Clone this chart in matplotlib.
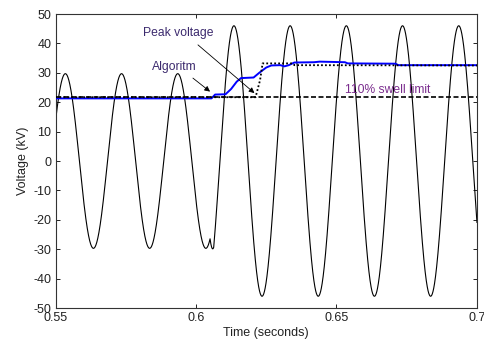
import numpy as np
import matplotlib
matplotlib.use("Agg")
from matplotlib import pyplot as plt

# Waveform: 50 Hz, rising zero crossing at 0.5485 s, envelope read from peaks
freq_hz = 50.0
phase_t0 = 0.5485
env_t = [0.55, 0.6050, 0.6063, 0.70]
env_kv = [29.7, 29.7, 46.0, 46.0]

# Detection algorithm output (blue)
algo_t = [0.55, 0.6055, 0.6068, 0.6105, 0.6125, 0.6145, 0.6160, 0.6205,
          0.6225, 0.6250, 0.6268, 0.6300, 0.6315, 0.6330, 0.6350, 0.6420,
          0.6440, 0.6530, 0.6540, 0.6710, 0.6720, 0.70]
algo_kv = [21.3, 21.3, 22.6, 22.7, 24.5, 27.0, 28.2, 28.4,
           30.0, 31.8, 32.5, 32.6, 32.2, 32.6, 33.5, 33.6,
           33.8, 33.6, 33.2, 33.1, 32.6, 32.6]

# Peak voltage (dotted)
peak_t = [0.55, 0.6212, 0.6228, 0.6237, 0.6345, 0.6350, 0.70]
peak_kv = [21.7, 21.7, 27.5, 33.2, 33.2, 32.6, 32.5]

# 110 % swell limit
limit_kv = 21.7

plt.rcParams['font.family'] = ['Liberation Sans', 'DejaVu Sans']
plt.rcParams['axes.unicode_minus'] = False

fig = plt.figure(figsize=(4.84, 3.4), dpi=100)
ax = fig.add_axes([0.1147, 0.0941, 0.8708, 0.8647])

# sampled waveform
t = np.linspace(0.55, 0.70, 3001)
amp = np.interp(t, env_t, env_kv)
v = amp * np.sin(2 * np.pi * freq_hz * (t - phase_t0))
ax.plot(t, v, color='black', lw=0.8, zorder=2)

ax.plot(algo_t, algo_kv, color='#0000ff', lw=1.4, zorder=3)
ax.axhline(limit_kv, color='black', lw=1.2, linestyle=(0, (3, 1.5)), zorder=4)
ax.plot(peak_t, peak_kv, color='black', lw=1.3, linestyle=(0, (1, 1.2)), zorder=5)

# annotations
arrow = dict(arrowstyle='-|>', color='black', lw=0.6, mutation_scale=8,
             shrinkA=0, shrinkB=0)
ax.annotate('', xy=(0.6208, 23.1), xytext=(0.6007, 39.5), arrowprops=arrow, zorder=6)
ax.annotate('', xy=(0.6050, 23.6), xytext=(0.5989, 28.2), arrowprops=arrow, zorder=6)
ax.text(0.5936, 43.5, 'Peak voltage', fontsize=8.7, color='#3c2a6e',
        ha='center', va='center')
ax.text(0.5922, 32.0, 'Algoritm', fontsize=8.7, color='#3c2a6e',
        ha='center', va='center')
ax.text(0.6683, 24.1, '110% swell limit', fontsize=8.7, color='#7b2d8e',
        ha='center', va='center')

ax.set_xlim(0.55, 0.70)
ax.set_ylim(-50, 50)
ax.set_xticks([0.55, 0.6, 0.65, 0.7])
ax.set_xticklabels(['0.55', '0.6', '0.65', '0.7'])
ax.set_yticks(np.arange(-50, 51, 10))
ax.tick_params(direction='in', top=True, right=True, length=3, width=0.7,
               labelsize=9, pad=3, colors='#222222')
for s in ax.spines.values():
    s.set_linewidth(0.8)
    s.set_color('#333333')

ax.set_xlabel('Time (seconds)', fontsize=9, color='#222222', labelpad=2)
ax.set_ylabel('Voltage (kV)', fontsize=9, color='#222222', labelpad=3)

fig.savefig('out.png', dpi=100)
